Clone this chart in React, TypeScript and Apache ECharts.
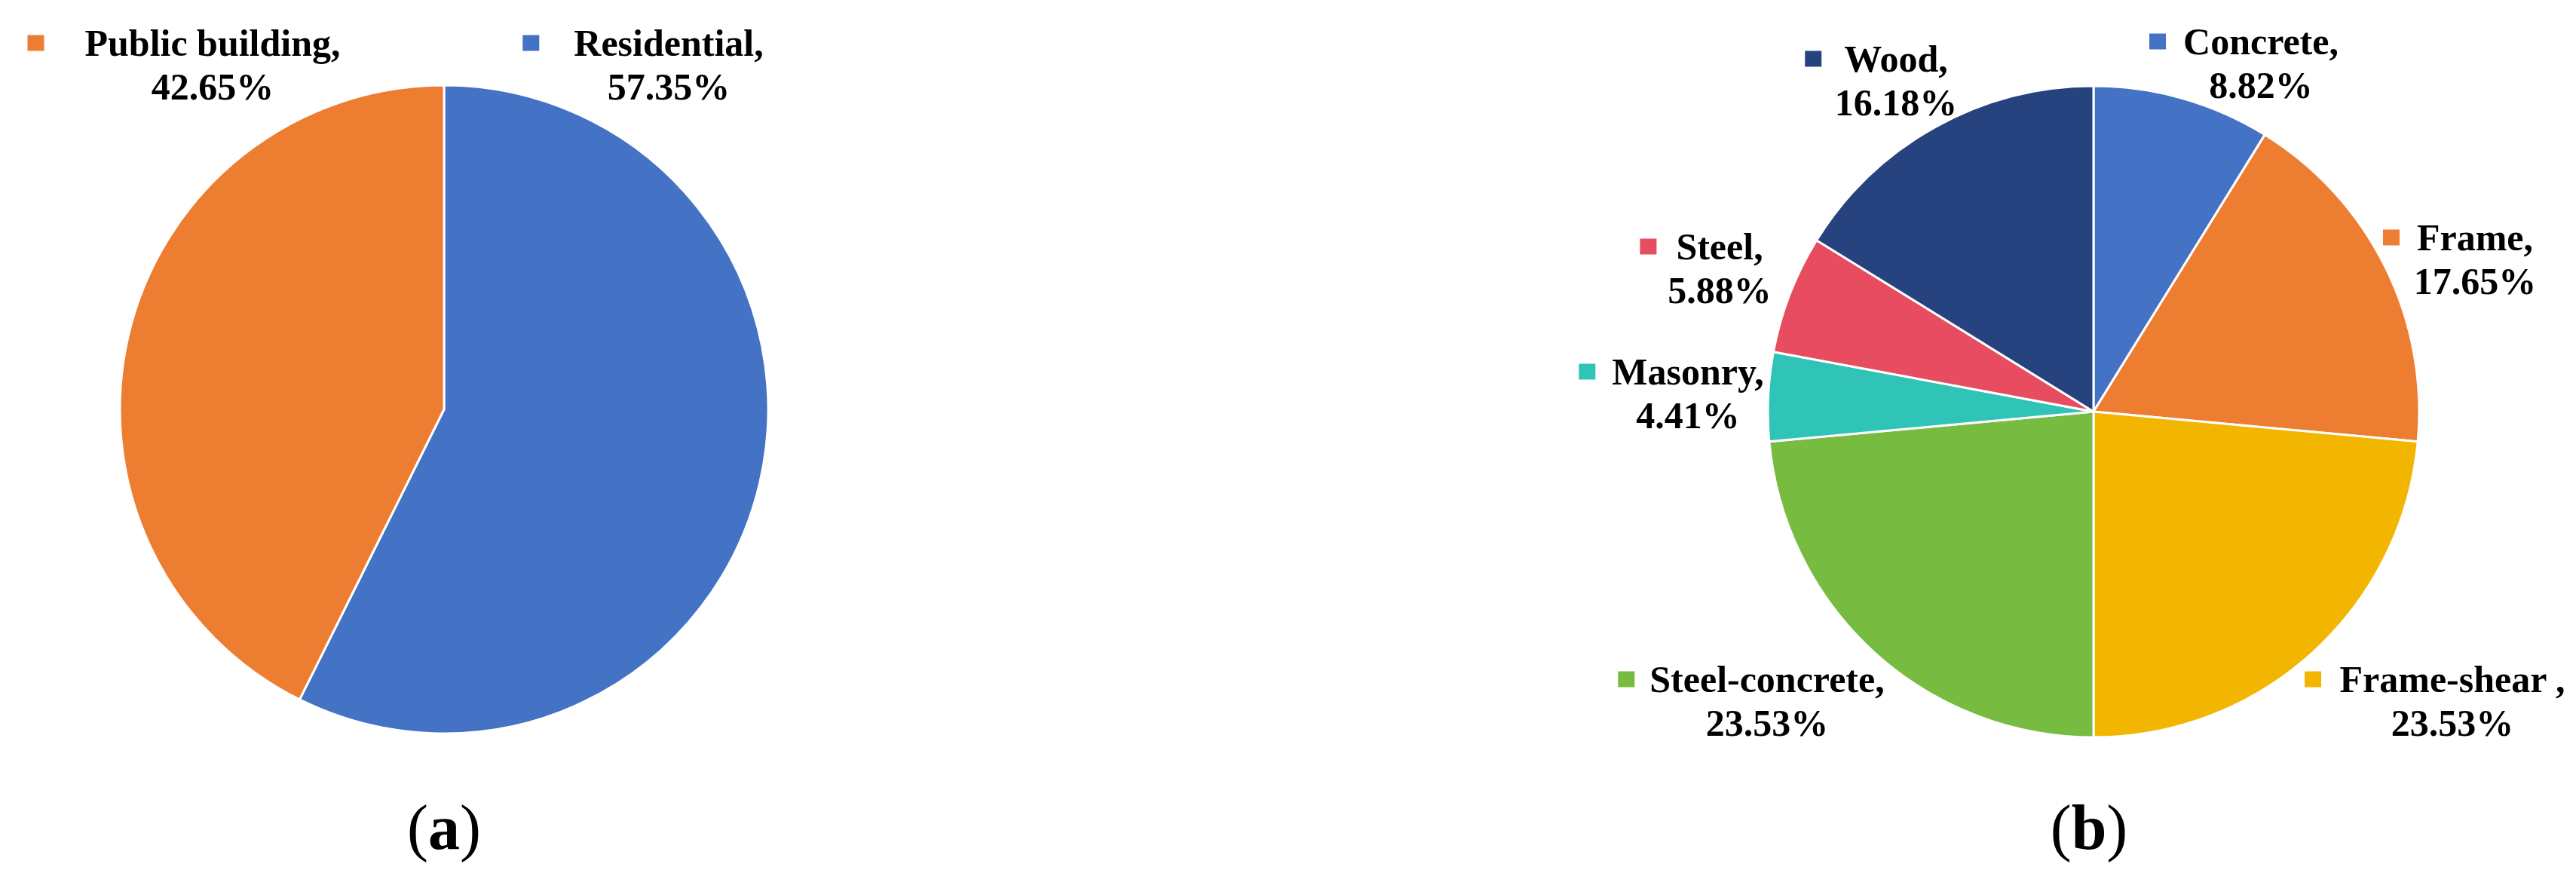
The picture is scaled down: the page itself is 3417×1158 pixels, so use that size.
import React, { useEffect, useRef } from "react";
import * as echarts from "echarts";

// ---- data ----
const categoriesA = ["Residential", "Public building"];
const valuesA = [57.35, 42.65];
const categoriesB = ["Concrete", "Frame", "Frame-shear ", "Steel-concrete", "Masonry", "Steel", "Wood"];
const valuesB = [8.82, 17.65, 23.53, 23.53, 4.41, 5.88, 16.18];
const captions = ["a", "b"];

// ---- styles / layout ----
const colorsA = ["#4472C4", "#ED7D31"];
const colorsB = ["#4472C4", "#ED7D31", "#F3B600", "#77BB41", "#2FC4B6", "#E74C60", "#26437F"];
// [text centre x, first-line baseline y]
const anchorsA = [[887, 74], [282, 74]];
const anchorsB = [[2999, 72], [3283, 332], [3253, 918], [2344, 918], [2239, 510], [2281, 344], [2515, 95]];
// gap between colour square and name text
const gapsA = [46, 54];
const gapsB = [23, 23, 24, 20, 22, 26, 30];

const FONT = "Liberation Serif";
const FS = 50;
const LH = 58;
const SQ = 22;

function buildSeries(
  id: string,
  names: string[],
  values: number[],
  colors: string[],
  anchors: number[][],
  center: number[],
  radius: number,
  gaps: number[]
) {
  const rich: Record<string, any> = {
    t: { fontFamily: FONT, fontWeight: "bold", fontSize: FS, lineHeight: LH, color: "#000" },
    v: { fontFamily: FONT, fontWeight: "bold", fontSize: FS, lineHeight: LH, color: "#000" },
  };
  colors.forEach((c, i) => {
    rich["sq" + i] = { width: SQ, height: 21, backgroundColor: c, lineHeight: LH, fontSize: 10 };
    rich["g" + i] = { width: gaps[i], lineHeight: LH, fontSize: FS };
    rich["sp" + i] = { width: SQ + gaps[i], lineHeight: LH, fontSize: FS };
  });
  return {
    id,
    type: "pie",
    center,
    radius,
    startAngle: 90,
    clockwise: true,
    avoidLabelOverlap: false,
    silent: true,
    itemStyle: { borderColor: "#ffffff", borderWidth: 3 },
    labelLine: { show: false },
    label: {
      show: true,
      position: "outside",
      formatter: (p: any) => {
        const i = p.dataIndex;
        return `{sq${i}| }{g${i}| }{t|${p.name},}\n{sp${i}| }{v|${Number(p.value).toFixed(2)}%}`;
      },
      rich,
    },
    labelLayout: (params: any) => {
      const i = params.dataIndex;
      const a = anchors[i];
      return {
        x: a[0] - (SQ + gaps[i]) / 2,
        y: a[1] + 12,
        align: "center",
        verticalAlign: "middle",
      };
    },
    data: names.map((n, i) => ({ name: n, value: values[i], itemStyle: { color: colors[i] } })),
  };
}

export default function App() {
  const ref = useRef<HTMLDivElement>(null);
  useEffect(() => {
    if (!ref.current) return;
    const chart = echarts.init(ref.current, undefined, { renderer: "svg" });
    const captionPos = [
      [589, 1097],
      [2771, 1097],
    ];
    chart.setOption({
      animation: false,
      backgroundColor: "#ffffff",
      series: [
        buildSeries("a", categoriesA, valuesA, colorsA, anchorsA, [589, 543], 430, gapsA),
        buildSeries("b", categoriesB, valuesB, colorsB, anchorsB, [2777, 546], 432, gapsB),
      ],
      graphic: captions.map((c, i) => ({
        type: "text",
        x: captionPos[i][0],
        y: captionPos[i][1],
        style: {
          text: `{p|(}{l|${c}}{p|)}`,
          align: "center",
          verticalAlign: "middle",
          rich: {
            p: { fontFamily: FONT, fontSize: 84, fontWeight: "normal", fill: "#000", color: "#000" },
            l: { fontFamily: FONT, fontSize: 84, fontWeight: "bold", fill: "#000", color: "#000" },
          },
        },
      })),
    });
    return () => chart.dispose();
  }, []);
  return (
    <div
      ref={ref}
      style={{ position: "fixed", left: 0, top: 0, width: 3417, height: 1158, background: "#fff" }}
    />
  );
}
